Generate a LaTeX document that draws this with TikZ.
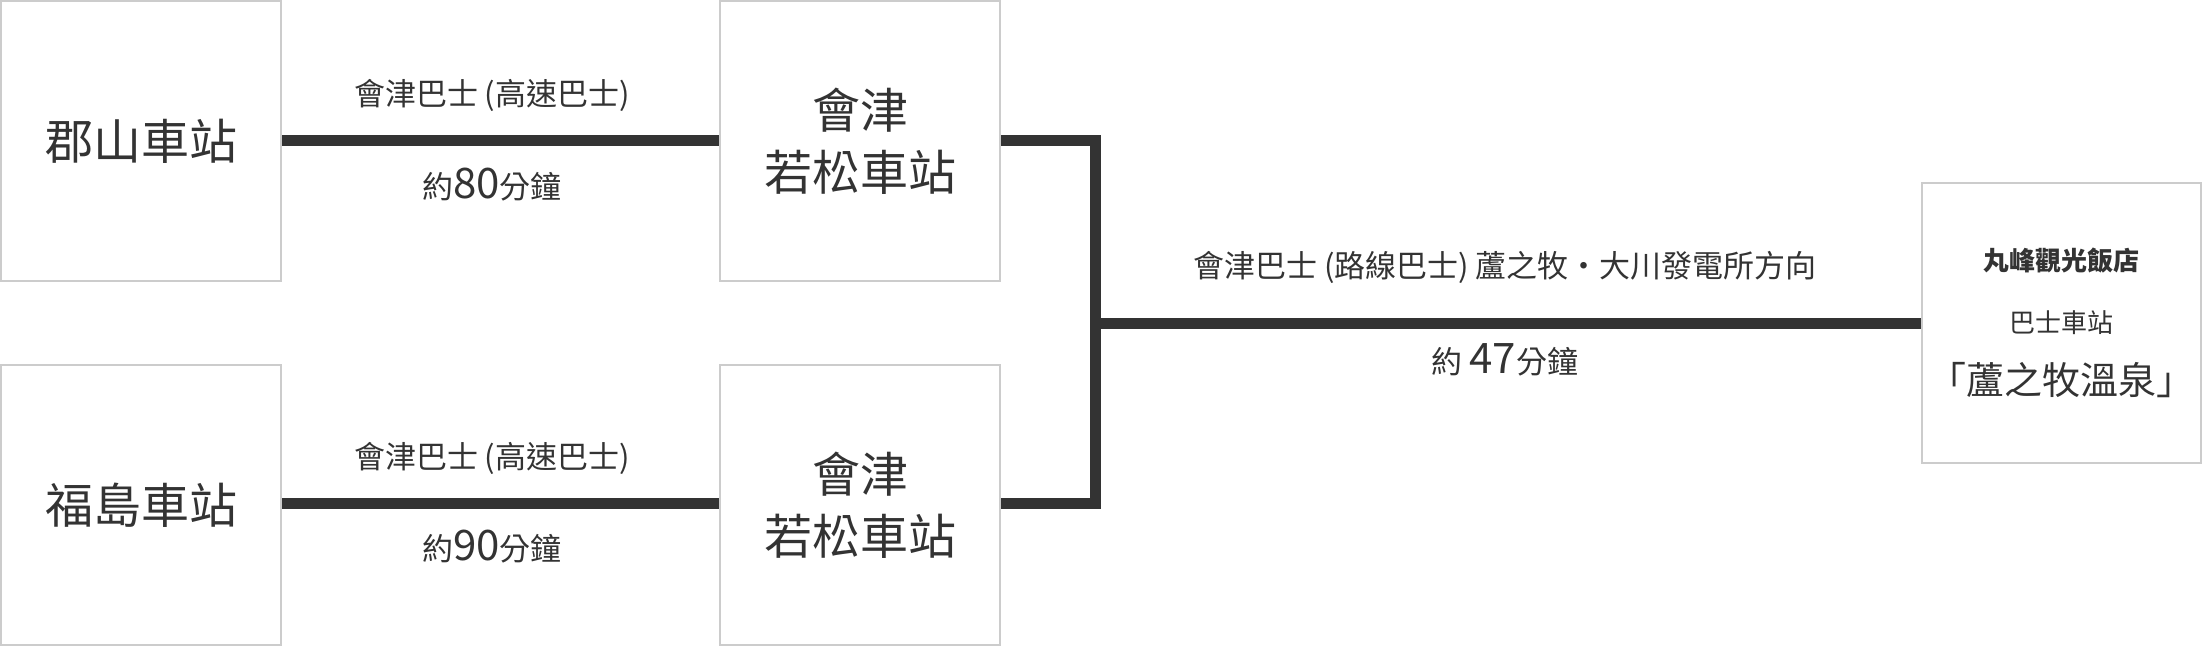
\documentclass[tikz,border=0pt]{standalone}
\usepackage{fontspec}
\setmainfont{Noto Sans CJK TC}
\usetikzlibrary{positioning}
\definecolor{ink}{HTML}{333333}
\definecolor{frame}{HTML}{CCCCCC}
\tikzset{
  station/.style={draw=frame,line width=2pt,minimum width=280pt,minimum height=280pt,inner sep=0pt,text=ink,align=center,font=\fontsize{48}{62}\selectfont},
  route/.style={line width=11pt,draw=ink},
  info/.style={text=ink,font=\fontsize{31}{36}\selectfont}
}
\begin{document}
\begin{tikzpicture}[x=1pt,y=-1pt]
\useasboundingbox (0,0) rectangle (2202,646);
\node[station] (koriyama) at (141,141) {郡山車站};
\node[station] (fukushima) at (141,505) {福島車站};
\node[station] (wakaA) at (860,141) {會津\\若松車站};
\node[station] (wakaB) at (860,505) {會津\\若松車站};
\node[station,minimum width=279pt] (hotel) at (2061,323) {{\fontsize{26}{34}\selectfont\bfseries 丸峰觀光飯店}\\{\fontsize{26}{34}\selectfont 巴士車站}\\{\fontsize{38}{46}\selectfont 「蘆之牧溫泉」}};
\coordinate (join) at (1095,323);
\draw[route] (koriyama.east |- 0,140) -- (wakaA.west |- 0,140);
\draw[route] (fukushima.east |- 0,503) -- (wakaB.west |- 0,503);
\draw[route] (wakaA.east |- 0,140) -| (join) |- (wakaB.east |- 0,503);
\draw[route] (join) -- (hotel.west);
\node[info] (busA) at (492,95) {會津巴士 (高速巴士)};
\node[info] (timeA) at (492,185) {約{\fontsize{42}{44}\selectfont 80}分鐘};
\node[info] (busB) at (492,458) {會津巴士 (高速巴士)};
\node[info] (timeB) at (492,547) {約{\fontsize{42}{44}\selectfont 90}分鐘};
\node[info] (busC) at (1505,267) {會津巴士 (路線巴士) 蘆之牧·大川發電所方向};
\node[info] (timeC) at (1505,360) {約 {\fontsize{42}{44}\selectfont 47}分鐘};
\end{tikzpicture}
\end{document}
